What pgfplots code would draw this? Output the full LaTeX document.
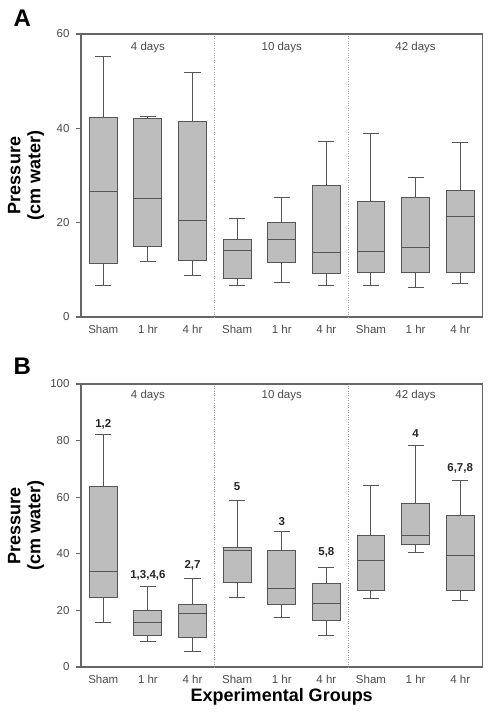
\documentclass[border=0pt]{standalone}
\usepackage{pgfplots}
\pgfplotsset{compat=1.18}
\usepgfplotslibrary{statistics}
\usepackage{fontspec}
\setmainfont{Liberation Sans}
\definecolor{axisgray}{HTML}{666666}
\definecolor{boxfill}{HTML}{BDBDBD}
\definecolor{boxdark}{HTML}{555555}
\definecolor{labgray}{HTML}{4A4A4A}
\newcommand{\bx}[6]{\addplot[draw=boxdark, fill=boxfill, line width=1pt, solid,
  boxplot prepared={draw position=#1, lower whisker=#2, lower quartile=#3, median=#4,
  upper quartile=#5, upper whisker=#6, box extend=0.625, whisker extend=0.36}] coordinates {};}
\pgfplotsset{
  myaxis/.style={
    scale only axis, width=401.5pt, height=283pt,
    xmin=0.5, xmax=9.5, ymin=0,
    axis line style={draw=axisgray, line width=1.3pt},
    xtick={1,...,9},
    xticklabels={Sham,1 hr,4 hr,Sham,1 hr,4 hr,Sham,1 hr,4 hr},
    x tick style={draw=none},
    y tick style={draw=axisgray, line width=1.1pt},
    tick align=outside, major tick length=5pt,
    ytick pos=left, xtick pos=bottom,
    tick label style={font=\fontsize{11.5}{13}\selectfont, text=labgray},
    yticklabel style={xshift=-3pt},
    /pgf/number format/assume math mode=true,
    extra x ticks={3.5,6.5}, extra x tick labels={},
    extra x tick style={grid=major, major grid style={dotted, draw=gray!70, line width=0.8pt}, tick style={draw=none}},
    boxplot/draw direction=y,
    ylabel={Pressure\\(cm water)},
    ylabel style={font=\fontsize{18}{20}\selectfont\bfseries, align=center,
      at={(axis description cs:-0.137,0.5)}, anchor=center},
  },
}
\tikzset{
  grplab/.style={font=\fontsize{11.5}{13}\selectfont, text=labgray, anchor=center},
  ann/.style={font=\fontsize{11.5}{13}\selectfont\bfseries, text=black!85, anchor=center},
}
\begin{document}
\begin{tikzpicture}
\useasboundingbox (-81pt,-396pt) rectangle (410pt,317pt);
% Panel A
\begin{axis}[myaxis, at={(0pt,0pt)}, anchor=south west, ymax=60, ytick={0,20,40,60}]
\bx{1}{6.7}{11.3}{26.6}{42.2}{55.3}
\bx{2}{11.8}{15.0}{25.1}{42.0}{42.5}
\bx{3}{8.8}{12.0}{20.5}{41.4}{51.9}
\bx{4}{6.7}{8.1}{14.2}{16.4}{20.8}
\bx{5}{7.4}{11.5}{16.5}{20.1}{25.4}
\bx{6}{6.7}{9.2}{13.7}{27.8}{37.3}
\bx{7}{6.7}{9.4}{13.8}{24.4}{38.9}
\bx{8}{6.2}{9.4}{14.8}{25.4}{29.5}
\bx{9}{7.2}{9.5}{21.3}{26.8}{37.1}
\node[grplab] at (axis cs:2,57.2) {4 days};
\node[grplab] at (axis cs:5,57.2) {10 days};
\node[grplab] at (axis cs:8,57.2) {42 days};
\end{axis}
% Panel B
\begin{axis}[myaxis, at={(0pt,-350pt)}, anchor=south west, ymax=100, ytick={0,20,40,60,80,100},
  xlabel={Experimental Groups},
  xlabel style={font=\fontsize{18}{20}\selectfont\bfseries, at={(axis description cs:0.5,-0.106)}, anchor=center}]
\bx{1}{15.9}{24.6}{33.8}{63.8}{82.1}
\bx{2}{9.1}{11.2}{15.7}{19.8}{28.3}
\bx{3}{5.5}{10.6}{18.9}{22.1}{31.4}
\bx{4}{24.6}{29.9}{41.3}{42.3}{59.0}
\bx{5}{17.6}{22.0}{27.9}{41.3}{47.9}
\bx{6}{11.2}{16.6}{22.5}{29.4}{35.2}
\bx{7}{24.3}{27.0}{37.8}{46.6}{64.3}
\bx{8}{40.3}{43.3}{46.3}{57.6}{78.2}
\bx{9}{23.4}{27.2}{39.5}{53.7}{66.0}
\node[grplab] at (axis cs:2,95.8) {4 days};
\node[grplab] at (axis cs:5,95.8) {10 days};
\node[grplab] at (axis cs:8,95.8) {42 days};
\node[ann] at (axis cs:1,85.9) {1,2};
\node[ann] at (axis cs:2,32.5) {1,3,4,6};
\node[ann] at (axis cs:3,35.8) {2,7};
\node[ann] at (axis cs:4,63.8) {5};
\node[ann] at (axis cs:5,51.5) {3};
\node[ann] at (axis cs:6,40.5) {5,8};
\node[ann] at (axis cs:8,82.4) {4};
\node[ann] at (axis cs:9,70.2) {6,7,8};
\end{axis}
\node[anchor=west, font=\fontsize{24}{26}\selectfont\bfseries] at (-71pt,299pt) {A};
\node[anchor=west, font=\fontsize{24}{26}\selectfont\bfseries] at (-71pt,-49pt) {B};
\end{tikzpicture}
\end{document}
